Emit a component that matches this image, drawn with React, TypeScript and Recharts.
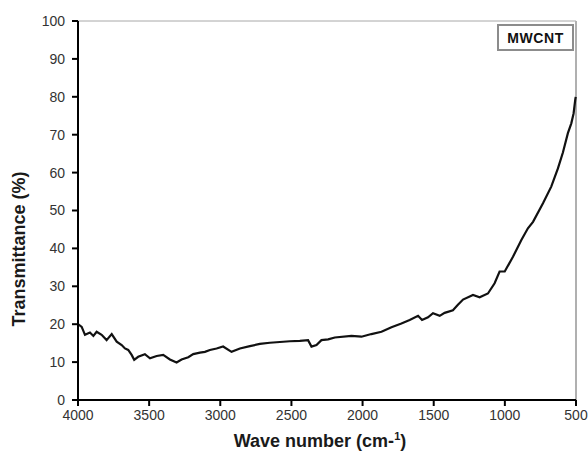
import { LineChart, Line, XAxis, YAxis, ReferenceLine, Legend, Label } from "recharts";

const waveNumbers = [
  4000, 3974, 3951, 3916, 3892, 3869, 3834, 3799, 3763, 3728, 3693, 3670, 3647, 3623, 3605, 3577,
  3530, 3494, 3447, 3401, 3354, 3307, 3272, 3225, 3190, 3143, 3108, 3073, 3026, 2980, 2921, 2862,
  2792, 2722, 2652, 2581, 2511, 2441, 2383, 2359, 2324, 2289, 2242, 2195, 2078, 2008, 1938, 1867,
  1797, 1727, 1669, 1610, 1582, 1540, 1505, 1458, 1423, 1365, 1330, 1294, 1224, 1177, 1119, 1072,
  1037, 1001, 943, 884, 838, 802, 732, 674, 627, 592, 557, 533, 517, 505, 502,
];
// transmittance (%)
const transmittance = [
  20.0, 19.3, 17.2, 17.8, 16.9, 18.0, 17.2, 15.8, 17.4, 15.4, 14.5, 13.6, 13.2, 11.9, 10.6, 11.4,
  12.1, 11.0, 11.6, 11.9, 10.7, 9.9, 10.7, 11.3, 12.1, 12.5, 12.7, 13.2, 13.6, 14.1, 12.7, 13.6,
  14.2, 14.8, 15.1, 15.3, 15.5, 15.6, 15.8, 14.1, 14.5, 15.8, 16.0, 16.5, 16.9, 16.7, 17.4, 18.0,
  19.2, 20.2, 21.1, 22.2, 21.1, 21.8, 22.9, 22.2, 23.0, 23.7, 25.1, 26.5, 27.7, 27.1, 28.1, 30.8,
  33.9, 33.9, 37.8, 42.2, 45.3, 47.0, 51.9, 56.3, 61.1, 65.3, 70.4, 73.0, 75.6, 79.3, 80.0,
];
const xTicks = [4000, 3500, 3000, 2500, 2000, 1500, 1000, 500];
const yTicks = [0, 10, 20, 30, 40, 50, 60, 70, 80, 90, 100];
const seriesName = "MWCNT";

const data = waveNumbers.map((w, i) => ({ w, t: transmittance[i] }));

const font = "Arial, 'Liberation Sans', sans-serif";
const tickStyle = { fill: "#333", fontSize: 14, fontFamily: font };

const LegendBox = () => (
  <div
    style={{
      boxSizing: "border-box",
      width: 77,
      height: 27,
      border: "2px solid #8c8c8c",
      background: "#fff",
      fontFamily: font,
      fontWeight: "bold",
      fontSize: 14,
      letterSpacing: 0.6,
      color: "#111",
      display: "flex",
      alignItems: "center",
      justifyContent: "center",
    }}
  >
    {seriesName}
  </div>
);

export default function App() {
  return (
    <>
      {/* chart fills the window exactly; the 500 label sits on the right edge */}
      <style>{`html, body { margin: 0; overflow: hidden; }`}</style>
      <LineChart width={588} height={458} data={data} margin={{ top: 21, right: 12, bottom: 0, left: 0 }}>
        <XAxis
          dataKey="w"
          type="number"
          domain={[500, 4000]}
          reversed
          ticks={xTicks}
          interval={0}
          height={58}
          tick={tickStyle}
          tickSize={6}
          tickMargin={4}
          axisLine={{ stroke: "#000", strokeWidth: 2 }}
          tickLine={{ stroke: "#000", strokeWidth: 2 }}
        >
          <Label
            content={() => (
              <text x={320} y={447} textAnchor="middle" fontFamily={font} fontWeight="bold" fontSize={18} fill="#1a1a1a">
                <tspan>Wave number (cm-</tspan>
                <tspan dy={-7} fontSize={11}>1</tspan>
                <tspan dy={7}>)</tspan>
              </text>
            )}
          />
        </XAxis>
        <YAxis
          type="number"
          domain={[0, 100]}
          ticks={yTicks}
          interval={0}
          width={78}
          tick={tickStyle}
          tickSize={6}
          tickMargin={7}
          axisLine={{ stroke: "#000", strokeWidth: 2 }}
          tickLine={{ stroke: "#000", strokeWidth: 2 }}
        >
          <Label
            content={() => (
              <text
                x={19}
                y={249}
                transform="rotate(-90 19 249)"
                textAnchor="middle"
                dominantBaseline="central"
                fontFamily={font}
                fontWeight="bold"
                fontSize={18}
                fill="#1a1a1a"
              >
                Transmittance (%)
              </text>
            )}
          />
        </YAxis>
        <ReferenceLine y={100} stroke="#a8a8a8" strokeWidth={1} />
        <ReferenceLine x={500} stroke="#b0b0b0" strokeWidth={2} />
        <Legend
          layout="vertical"
          align="center"
          verticalAlign="middle"
          wrapperStyle={{ top: 24, left: 497, width: 77, height: 27 }}
          content={() => <LegendBox />}
        />
        <Line
          type="linear"
          dataKey="t"
          name={seriesName}
          stroke="#111"
          strokeWidth={2.2}
          dot={false}
          isAnimationActive={false}
        />
      </LineChart>
    </>
  );
}
